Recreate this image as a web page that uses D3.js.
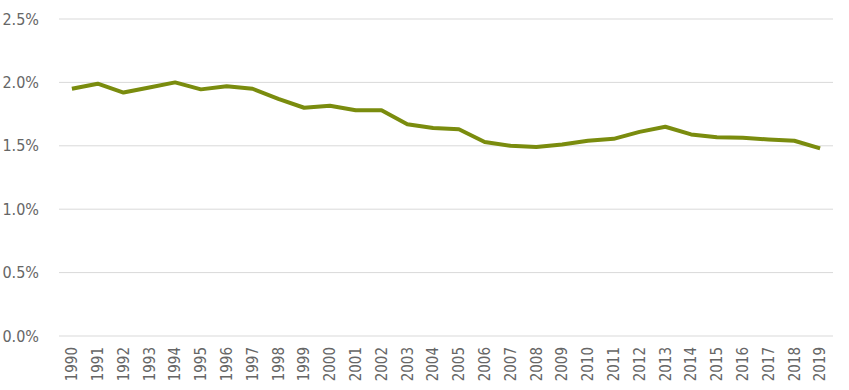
<!DOCTYPE html>
<html><head><meta charset="utf-8">
<script src="https://cdn.jsdelivr.net/npm/d3@7"></script>
<style>
body{margin:0;background:#fff;}
svg{display:block;}
text{font-family:"Liberation Sans Narrow","DejaVu Sans Condensed",sans-serif;fill:#666;}
</style></head>
<body><svg id="c" width="849" height="390"></svg>
<script>
const years = ["1990","1991","1992","1993","1994","1995","1996","1997","1998","1999","2000","2001","2002","2003","2004","2005","2006","2007","2008","2009","2010","2011","2012","2013","2014","2015","2016","2017","2018","2019"];
const values = [1.95,1.99,1.92,1.96,2.00,1.945,1.97,1.95,1.87,1.80,1.816,1.78,1.78,1.67,1.64,1.63,1.53,1.50,1.49,1.51,1.54,1.555,1.61,1.65,1.59,1.567,1.564,1.55,1.54,1.48];
const yTicks = [0,0.5,1.0,1.5,2.0,2.5];

(function(){
const svg = d3.select("#c");
const mL = 59, mR = 833, mT = 19, mB = 336;
const x = d3.scaleBand().domain(years).range([mL, mR]);
const y = d3.scaleLinear().domain([0, 2.5]).range([mB, mT]);

svg.append("g").selectAll("line").data(yTicks).join("line")
  .attr("x1", mL).attr("x2", mR)
  .attr("y1", d => y(d)).attr("y2", d => y(d))
  .attr("stroke", "#d9d9d9").attr("stroke-width", 1);

svg.append("g").selectAll("text").data(yTicks).join("text")
  .attr("x", 39).attr("y", d => y(d)).attr("dy", "0.35em")
  .attr("text-anchor", "end").attr("font-size", 16)
  .text(d => d.toFixed(1) + "%");

svg.append("g").selectAll("text").data(years).join("text")
  .attr("transform", d => `translate(${x(d) + x.bandwidth()/2},347) rotate(-90)`)
  .attr("text-anchor", "end").attr("dy", "0.35em").attr("font-size", 15)
  .text(d => d);

const line = d3.line().x((d, i) => x(years[i]) + x.bandwidth()/2).y(d => y(d));
svg.append("path").datum(values).attr("d", line)
  .attr("fill", "none").attr("stroke", "#7a8c0e").attr("stroke-width", 4)
  .attr("stroke-linejoin", "round");
})();
</script></body></html>
